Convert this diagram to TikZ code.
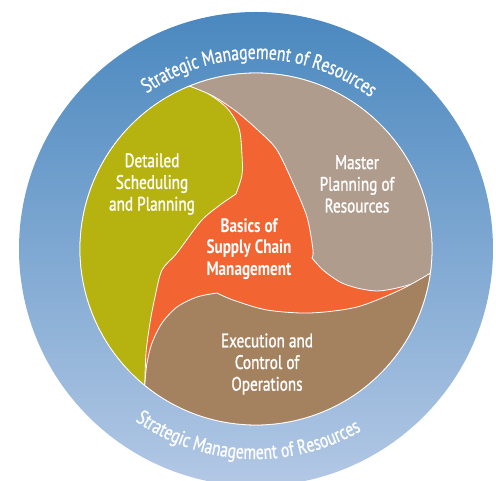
\documentclass[tikz,border=0pt]{standalone}
\usepackage{fontspec}
\setmainfont{PT Sans}
\newfontfamily\labelfont[FakeStretch=0.78,FakeBold=1.2]{PT Sans}
\newfontfamily\centerfont[FakeStretch=0.78]{PT Sans Bold}
\newfontfamily\ringfont[FakeStretch=0.76,FakeBold=0.8]{PT Sans}
\usetikzlibrary{decorations.text}
\definecolor{ringblue}{HTML}{4A88BF}
\definecolor{ringlight}{HTML}{B3C8E5}
\definecolor{cgreen}{HTML}{B6B20F}
\definecolor{cgray}{HTML}{AF9C8D}
\definecolor{cbrown}{HTML}{A5825F}
\definecolor{corange}{HTML}{F26532}
\newcommand\ringstyle{\color{white}\ringfont\fontsize{20.5}{20.5}\selectfont}
\tikzset{
  region/.style={draw=white, line width=0.8pt, line join=round},
  lbl/.style={text=white, align=center, font=\labelfont\fontsize{19.5}{21.7}\selectfont, inner sep=0pt},
  lblbold/.style={lbl, font=\centerfont\fontsize{19.5}{21.7}\selectfont},
}
\begin{document}
\begin{tikzpicture}[x=1pt,y=1pt]
\useasboundingbox (-256,-232) rectangle (240,249);
\shade[top color=ringblue, middle color=ringblue, bottom color=ringlight] (0,0) circle[radius=237];
\fill[corange, region] (0,0) circle[radius=176];
% green
\fill[cgreen, region] (112.2:176) arc[start angle=112.2, end angle=230.8, radius=176]
  -- plot[smooth] coordinates {(230.8:176) (-110,-104) (-106,-74) (-101,-48) (-94,-21) (-79,-4) (-55,28) (-36,44) (-20,55)}
  -- plot[smooth] coordinates {(-20,55) (-14,74) (-14,94) (-17,121) (-29,141) (-49,156) (112.2:176)} -- cycle;
% gray
\fill[cgray, region] (-7.9:176) arc[start angle=-7.9, end angle=112.2, radius=176]
  -- plot[smooth] coordinates {(112.2:176) (-43,153) (-19,137) (4,117) (21,99) (37,66) (51,32) (57,-1) (56,-9)}
  -- plot[smooth] coordinates {(56,-9) (67,-21) (84,-33) (101,-39) (121,-42) (141,-39) (161,-33) (-7.9:176)} -- cycle;
% brown
\fill[cbrown, region] (230.8:176) arc[start angle=230.8, end angle=352.1, radius=176]
  -- plot[smooth] coordinates {(-7.9:176) (144,-41) (101,-58) (54,-64) (11,-61) (-23,-51) (-39,-44)}
  -- plot[smooth] coordinates {(-39,-44) (-59,-48) (-79,-58) (-94,-74) (-104,-94) (-109,-114) (230.8:176)} -- cycle;
% labels
\node[lbl] (dsp) at (-104,65) {Detailed\\Scheduling\\and Planning};
\node[lbl] (mpr) at (101,65) {Master\\Planning of\\Resources};
\node[lblbold] (bscm) at (-7,0) {Basics of\\Supply Chain\\Management};
\node[lbl] (eco) at (11,-115) {Execution and\\Control of\\Operations};
% ring texts
\path[decorate, decoration={text along path, text={|\ringstyle|Strategic Management of Resources}, text align=center}]
  (160:190) arc[start angle=160, end angle=18, radius=190];
\path[decorate, decoration={text along path, text={|\ringstyle|Strategic Management of Resources}, text align=center}]
  (-162:210) arc[start angle=-162, end angle=-23, radius=210];
\end{tikzpicture}
\end{document}
